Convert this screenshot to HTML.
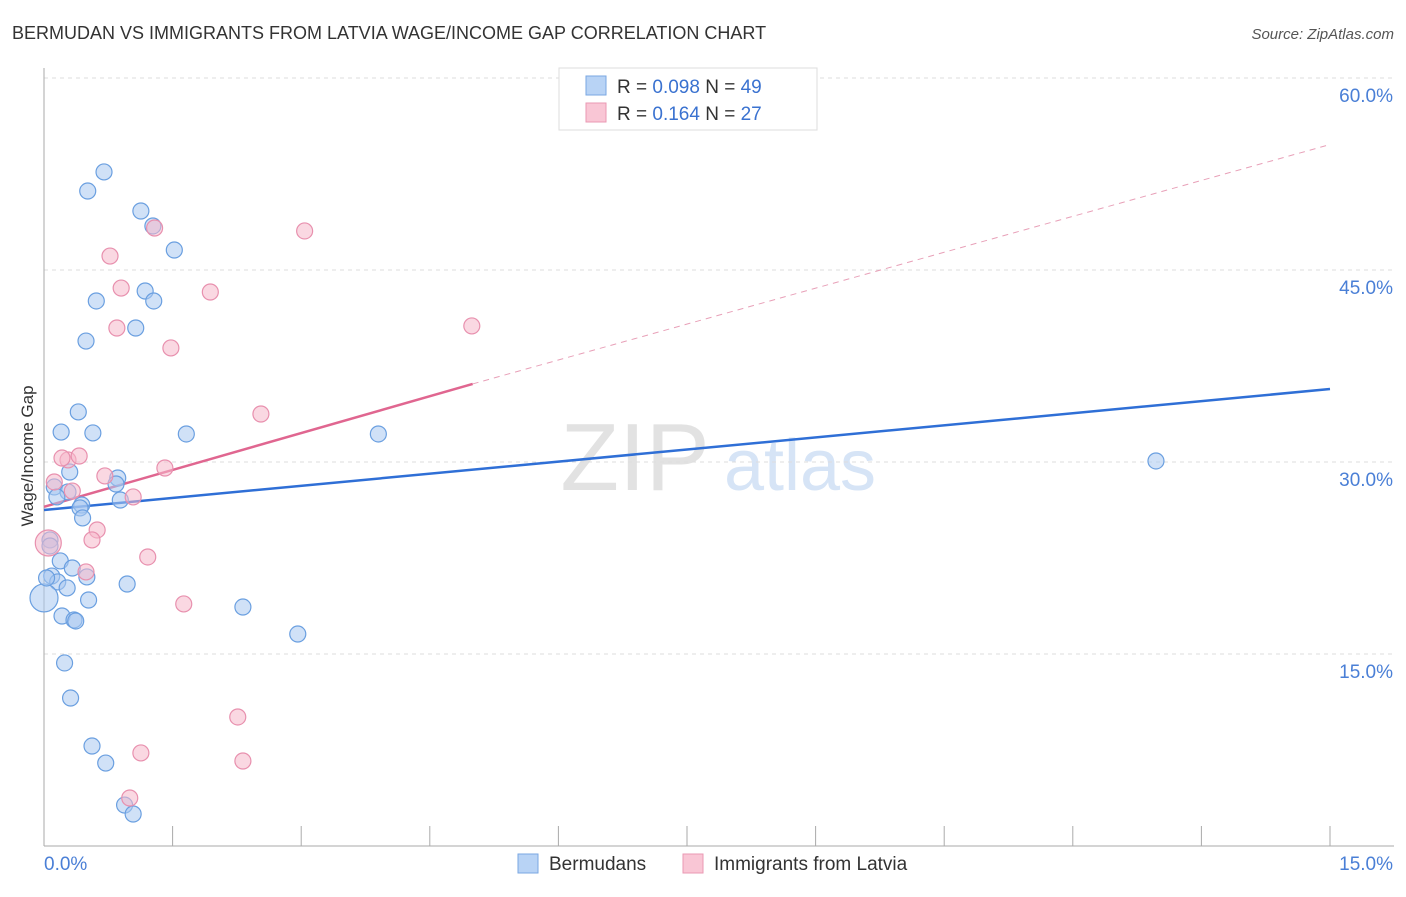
<!DOCTYPE html>
<html><head><meta charset="utf-8"><style>
body{margin:0;background:#fff;font-family:"Liberation Sans",sans-serif;}
svg text{font-family:"Liberation Sans",sans-serif;}
</style></head><body>
<svg id="chart" width="1406" height="892" xmlns="http://www.w3.org/2000/svg">
<text x="12" y="39" font-size="18" fill="#333">BERMUDAN VS IMMIGRANTS FROM LATVIA WAGE/INCOME GAP CORRELATION CHART</text>
<text x="1394" y="39" font-size="15" fill="#555" font-style="italic" text-anchor="end">Source: ZipAtlas.com</text>
<text transform="translate(33,456) rotate(-90)" font-size="17" fill="#333" text-anchor="middle">Wage/Income Gap</text>
<g><text x="635" y="490" font-size="96" fill="#e2e2e2" font-family="Liberation Serif" text-anchor="middle">ZIP</text><text x="800" y="490" font-size="72" fill="#d6e4f6" text-anchor="middle">atlas</text></g>
<g id="grid"></g><g id="axes"></g><g id="lines"></g><g id="points"></g>
<g>
<rect x="559" y="68" width="258" height="62" fill="#fff" stroke="#ddd"/>
<rect x="586" y="76" width="20" height="19" fill="#b8d3f5" stroke="#7aa7e2"/>
<text x="617" y="93" font-size="19" fill="#333">R = <tspan fill="#3a72d0">0.098</tspan>   N = <tspan fill="#3a72d0">49</tspan></text>
<rect x="586" y="103" width="20" height="19" fill="#f9c6d5" stroke="#ea98b3"/>
<text x="617" y="120" font-size="19" fill="#333">R =  <tspan fill="#3a72d0">0.164</tspan>   N = <tspan fill="#3a72d0">27</tspan></text>
</g>
<g>
<rect x="518" y="854" width="20" height="19" fill="#b8d3f5" stroke="#7aa7e2"/>
<text x="549" y="870" font-size="19" fill="#333">Bermudans</text>
<rect x="683" y="854" width="20" height="19" fill="#f9c6d5" stroke="#ea98b3"/>
<text x="714" y="870" font-size="19" fill="#333">Immigrants from Latvia</text>
</g>
</svg>
<script>
const yTicks=[15,30,45,60];
const yTickLabels=["15.0%","30.0%","45.0%","60.0%"];
const xTickCount=10;
const blueX=[0.70,0.51,1.13,1.27,1.52,0.61,1.18,1.28,1.07,0.49,0.40,0.20,0.57,1.66,3.90,12.97,0.30,0.12,0.28,0.15,0.86,0.84,0.89,0.44,0.42,0.45,0.07,0.07,0.19,0.33,0.50,0.09,0.16,0.27,0.97,0.52,0.00,0.21,0.35,0.37,2.32,2.96,0.24,0.31,0.56,0.72,0.94,1.04,0.03];
const blueY=[52.66,51.17,49.61,48.44,46.56,42.58,43.36,42.58,40.47,39.45,33.91,32.34,32.27,32.19,32.19,30.08,29.22,28.05,27.66,27.27,28.75,28.28,27.03,26.64,26.41,25.63,23.91,23.44,22.27,21.72,21.02,21.09,20.63,20.16,20.47,19.22,19.38,17.97,17.66,17.58,18.67,16.56,14.30,11.56,7.81,6.48,3.20,2.50,20.94];
const pinkX=[1.29,3.04,0.77,0.90,1.94,0.85,1.48,4.99,2.53,0.28,0.41,0.21,1.41,0.71,0.12,0.33,1.04,0.62,0.56,0.05,1.21,0.49,1.63,2.26,1.13,2.32,1.00];
const pinkY=[48.28,48.05,46.09,43.59,43.28,40.47,38.91,40.63,33.75,30.16,30.47,30.31,29.53,28.91,28.44,27.73,27.27,24.69,23.91,23.67,22.58,21.41,18.91,10.08,7.27,6.64,3.75];
const blueTrend=[26.25,35.7];
const pinkTrend=[26.5,36.1,54.8];
const pinkSolidEnd=5.0;
const X=v=>44+v*(1286/15), Y=v=>846-v*12.8;
const NS="http://www.w3.org/2000/svg";
function mk(p,t,a){const e=document.createElementNS(NS,t);for(const k in a)e.setAttribute(k,a[k]);document.getElementById(p).appendChild(e);return e;}
yTicks.forEach((t,i)=>{
 const g=mk('grid','line',{x1:44,x2:1394,y1:Y(t),y2:Y(t),stroke:'#ddd','stroke-dasharray':'4,4'});
 
 
 const l=mk('axes','text',{x:1393,y:Y(t)+24,'font-size':19,fill:'#4a7fd6','text-anchor':'end'});l.textContent=yTickLabels[i];
 
 
});
const tg=mk('grid','line',{x1:44,x2:1394,y1:Y(60),y2:Y(60),stroke:'#ddd','stroke-dasharray':'4,4'});
mk('axes','line',{x1:44,x2:44,y1:68,y2:846,stroke:'#aaa'});
mk('axes','line',{x1:44,x2:1394,y1:846,y2:846,stroke:'#aaa'});
for(let i=1;i<=xTickCount;i++){const t=mk('axes','line',{x1:X(i*1.5),x2:X(i*1.5),y1:826,y2:846,stroke:'#aaa'});
 
 }
let a=mk('axes','text',{x:44,y:870,'font-size':19,fill:'#4a7fd6'});a.textContent='0.0%';


a=mk('axes','text',{x:1393,y:870,'font-size':19,fill:'#4a7fd6','text-anchor':'end'});a.textContent='15.0%';


function dot(x,y,f,s,n,r){const c=mk('points','circle',{cx:X(x),cy:Y(y),r:r,fill:f,'fill-opacity':0.55,stroke:s,'stroke-width':1.2});
 
 }
blueX.forEach((x,i)=>dot(x,blueY[i],'#a9c8f0','#6a9fe0','bermudan-point',x===0?14:8));
pinkX.forEach((x,i)=>dot(x,pinkY[i],'#f5b8cb','#e890ae','latvia-point',x<0.1?13:8));
let ln=mk('lines','line',{x1:X(0),y1:Y(blueTrend[0]),x2:X(15),y2:Y(blueTrend[1]),stroke:'#2f6fd6','stroke-width':2.5});


ln=mk('lines','line',{x1:X(0),y1:Y(pinkTrend[0]),x2:X(pinkSolidEnd),y2:Y(pinkTrend[1]),stroke:'#e06690','stroke-width':2.5});


ln=mk('lines','line',{x1:X(pinkSolidEnd),y1:Y(pinkTrend[1]),x2:X(15),y2:Y(pinkTrend[2]),stroke:'#e8a0b8','stroke-width':1,'stroke-dasharray':'6,5'});


</script>
</body></html>
